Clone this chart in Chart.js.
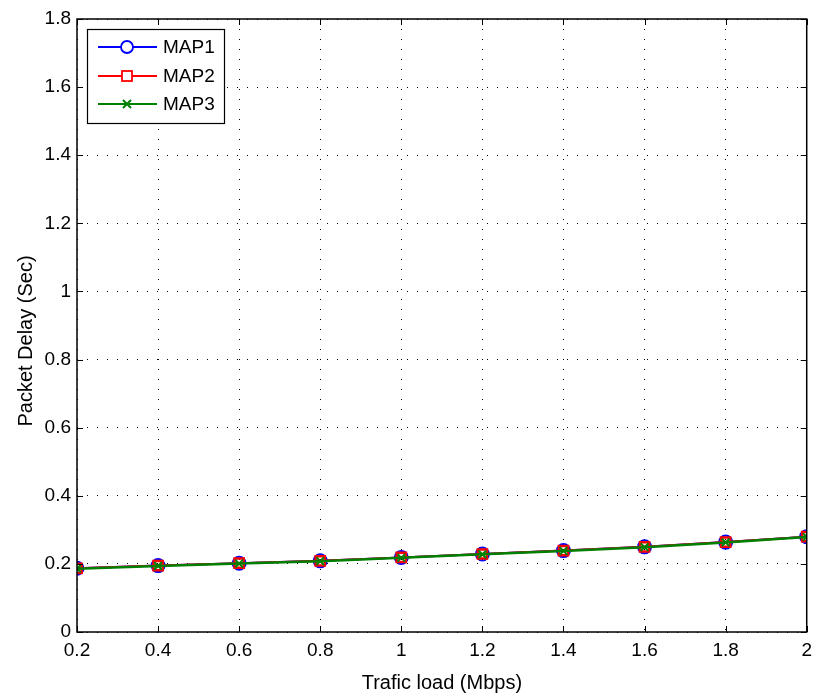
<!DOCTYPE html>
<html><head><meta charset="utf-8">
<script src="https://cdn.jsdelivr.net/npm/chart.js@4"></script>
<style>html,body{margin:0;padding:0;background:#fff}#wrap{width:819px;height:698px;position:relative}</style>
</head><body><div id="wrap"><canvas id="c" width="819" height="698"></canvas></div>
<script>
const trafficLoad = [0.2, 0.4, 0.6, 0.8, 1.0, 1.2, 1.4, 1.6, 1.8, 2.0];
const map1 = [0.187, 0.195, 0.202, 0.209, 0.219, 0.229, 0.239, 0.250, 0.264, 0.280];
const map2 = [0.187, 0.195, 0.202, 0.209, 0.219, 0.229, 0.239, 0.250, 0.264, 0.280];
const map3 = [0.186, 0.194, 0.201, 0.208, 0.218, 0.228, 0.238, 0.249, 0.263, 0.279];
const seriesNames = ['MAP1', 'MAP2', 'MAP3'];
const xTitle = 'Trafic load (Mbps)';
const yTitle = 'Packet Delay (Sec)';
const FONT = "'Liberation Sans', Arial, Helvetica, sans-serif";

function pts(ys){ return trafficLoad.map((x,i)=>({x:x,y:ys[i]})); }

const frame = {
  id:'frame',
  afterDraw(chart){
    const {ctx, chartArea:a, scales:{x,y}} = chart;
    ctx.save();
    ctx.strokeStyle='#000'; ctx.lineWidth=1.5;
    ctx.strokeRect(a.left, a.top, a.right-a.left, a.bottom-a.top);
    ctx.lineWidth=1;
    const tl=6;
    x.ticks.forEach(t=>{const px=Math.round(x.getPixelForValue(t.value))+0.5;
      ctx.beginPath();ctx.moveTo(px,a.bottom);ctx.lineTo(px,a.bottom-tl);ctx.moveTo(px,a.top);ctx.lineTo(px,a.top+tl);ctx.stroke();});
    y.ticks.forEach(t=>{const py=Math.round(y.getPixelForValue(t.value))+0.5;
      ctx.beginPath();ctx.moveTo(a.left,py);ctx.lineTo(a.left+tl,py);ctx.moveTo(a.right,py);ctx.lineTo(a.right-tl,py);ctx.stroke();});
    // y axis title
    ctx.save();
    ctx.translate(32, 341);
    ctx.rotate(-Math.PI/2);
    ctx.fillStyle='#000'; ctx.font='20px '+FONT; ctx.textAlign='center'; ctx.textBaseline='alphabetic';
    ctx.fillText(yTitle, 0, 0);
    ctx.restore();
    // legend
    const bx=87, by=29, bw=137, bh=94;
    ctx.fillStyle='#fff'; ctx.fillRect(bx,by,bw,bh);
    ctx.strokeStyle='#000'; ctx.lineWidth=1.2; ctx.strokeRect(bx+0.5,by+0.5,bw,bh);
    const rows=[47,76,104];
    chart.data.datasets.forEach((ds,i)=>{
      const yy=rows[i];
      ctx.strokeStyle=ds.borderColor; ctx.lineWidth=2;
      ctx.beginPath(); ctx.moveTo(98,yy); ctx.lineTo(157,yy); ctx.stroke();
      ctx.lineWidth=1.8;
      const cx=127;
      if(ds.pointStyle==='circle'){ctx.beginPath();ctx.arc(cx,yy,6,0,Math.PI*2);ctx.fillStyle='#fff';ctx.fill();ctx.stroke();}
      else if(ds.pointStyle==='rect'){ctx.fillStyle='#fff';ctx.fillRect(cx-5,yy-5,10,10);ctx.strokeRect(cx-5,yy-5,10,10);}
      else {ctx.lineWidth=2;ctx.beginPath();ctx.moveTo(cx-4,yy-4);ctx.lineTo(cx+4,yy+4);ctx.moveTo(cx+4,yy-4);ctx.lineTo(cx-4,yy+4);ctx.stroke();}
      ctx.fillStyle='#000'; ctx.font='19px '+FONT; ctx.textBaseline='middle'; ctx.textAlign='left';
      ctx.fillText(ds.label,163,yy+1);
    });
    ctx.restore();
  }
};

new Chart(document.getElementById('c'), {
  type:'line',
  data:{datasets:[
    {label:seriesNames[0], data:pts(map1), borderColor:'#0000ff', backgroundColor:'rgba(0,0,0,0)', pointBorderColor:'#0000ff', pointStyle:'circle', pointRadius:6.5, pointBorderWidth:2, borderWidth:2, order:3},
    {label:seriesNames[1], data:pts(map2), borderColor:'#ff0000', backgroundColor:'rgba(0,0,0,0)', pointBorderColor:'#ff0000', pointStyle:'rect', pointRadius:6.5, pointBorderWidth:2.5, borderWidth:2, order:2},
    {label:seriesNames[2], data:pts(map3), borderColor:'#008000', backgroundColor:'rgba(0,0,0,0)', pointBorderColor:'#008000', pointStyle:'crossRot', pointRadius:5.5, pointBorderWidth:2, borderWidth:2.5, order:1}
  ]},
  options:{
    responsive:false, animation:false, devicePixelRatio:1,
    layout:{padding:{left:0,right:9,top:19,bottom:0}},
    plugins:{legend:{display:false}, tooltip:{enabled:false}},
    scales:{
      x:{type:'linear', min:0.2, max:2,
        ticks:{stepSize:0.2, color:'#000', font:{family:FONT,size:19}, padding:7, maxRotation:0,
          callback:v=>String(parseFloat(v.toFixed(1)))},
        grid:{color:'#000', lineWidth:1, drawTicks:false},
        border:{display:false, dash:[1,9]},
        title:{display:true, text:xTitle, color:'#000', font:{family:FONT,size:20}, padding:{top:0,bottom:3}},
        afterFit:s=>{s.height=66;}
      },
      y:{type:'linear', min:0, max:1.8,
        ticks:{stepSize:0.2, color:'#000', font:{family:FONT,size:19}, padding:6,
          callback:v=>String(parseFloat(v.toFixed(1)))},
        grid:{color:'#000', lineWidth:1, drawTicks:false},
        border:{display:false, dash:[1,9]},
        title:{display:false},
        afterFit:s=>{s.width=77;}
      }
    }
  },
  plugins:[frame]
});
</script></body></html>
